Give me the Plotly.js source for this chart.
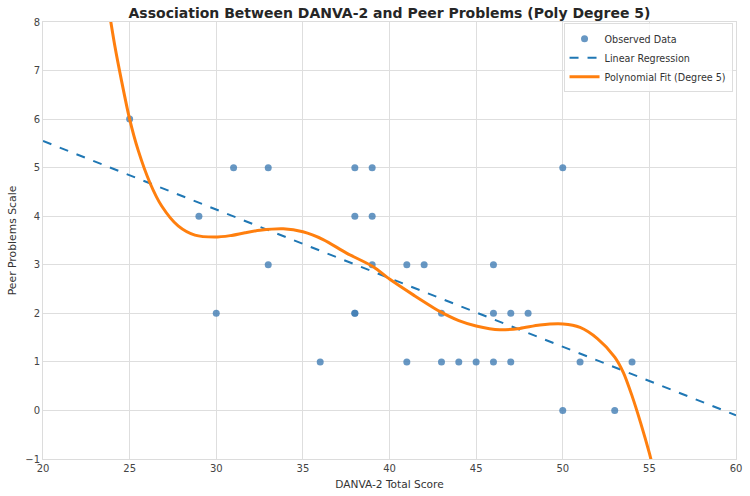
<!DOCTYPE html>
<html>
<head>
<meta charset="utf-8">
<script src="https://cdn.plot.ly/plotly-3.0.1.min.js"></script>
<style>html,body{margin:0;padding:0;background:#fff;}#chart{width:750px;height:496px;}</style>
</head>
<body>
<div id="chart"></div>
<script>
// Observed data (DANVA-2 total score, peer problems)
const obsX = [25, 29, 30, 31, 33, 33, 36, 38, 38, 38, 38, 39, 39, 39, 41, 42, 41, 43, 43, 44, 45, 46, 46, 46, 47, 47, 48, 50, 50, 51, 53, 54];
const obsY = [6, 4, 2, 5, 5, 3, 1, 5, 4, 2, 2, 5, 4, 3, 3, 3, 1, 2, 1, 1, 1, 3, 2, 1, 2, 1, 2, 5, 0, 1, 0, 1];

// Linear regression line
const linX = [20, 60];
const linY = [5.55, -0.10];

// Polynomial fit (degree 5) curve
const polyX = [23.87, 24.15, 24.5, 25.0, 25.5, 26.17, 26.85, 27.8, 28.77, 29.9, 30.8, 31.66, 32.52, 33.87, 35.0, 36.17, 37.52, 39.06, 40.02, 41.37, 42.9, 44.0, 45.0, 46.37, 47.52, 48.68, 50.02, 51.0, 52.0, 53.0, 53.5, 54.0, 54.5, 55.0, 55.1];
const polyY = [8.1, 7.5, 6.85, 6.0, 5.35, 4.69, 4.21, 3.80, 3.61, 3.57, 3.60, 3.66, 3.71, 3.74, 3.68, 3.52, 3.24, 2.96, 2.70, 2.38, 2.04, 1.85, 1.74, 1.66, 1.69, 1.76, 1.78, 1.71, 1.48, 1.10, 0.78, 0.30, -0.26, -0.88, -1.02];

const font = 'DejaVu Sans, sans-serif';

const traces = [
  {x: obsX, y: obsY, type: 'scatter', mode: 'markers', name: 'Observed Data',
   marker: {color: 'rgba(65,125,180,0.8)', size: 7, line: {width: 0}}},
  {x: linX, y: linY, type: 'scatter', mode: 'lines', name: 'Linear Regression',
   line: {color: '#1f77b4', width: 2, dash: 'dash'}},
  {x: polyX, y: polyY, type: 'scatter', mode: 'lines', name: 'Polynomial Fit (Degree 5)',
   line: {color: '#ff7f0e', width: 3, shape: 'spline', smoothing: 0.8}}
];

const layout = {
  width: 750, height: 496,
  margin: {l: 43, r: 14, t: 22, b: 37},
  paper_bgcolor: '#fff', plot_bgcolor: '#fff',
  font: {family: font, size: 11, color: '#333'},
  title: {text: '<b>Association Between DANVA-2 and Peer Problems (Poly Degree 5)</b>',
          x: 0.5, xref: 'paper', y: 0.974, yref: 'container', yanchor: 'middle',
          font: {family: font, size: 14, color: '#262626'}},
  xaxis: {range: [20, 60], dtick: 5, tick0: 20, showgrid: true, gridcolor: '#dedede', gridwidth: 1,
          zeroline: false, showline: true, mirror: true, linecolor: '#dcdcdc', linewidth: 1,
          ticks: '', tickfont: {size: 10, color: '#444'},
          title: {text: 'DANVA-2 Total Score', font: {size: 10.6, color: '#333'}, standoff: 7}},
  yaxis: {range: [-1, 8], dtick: 1, tick0: -1, showgrid: true, gridcolor: '#dedede', gridwidth: 1,
          zeroline: false, showline: true, mirror: true, linecolor: '#dcdcdc', linewidth: 1,
          ticks: '', tickfont: {size: 10, color: '#444'},
          title: {text: 'Peer Problems Scale', font: {size: 10.8, color: '#333'}, standoff: 6}},
  showlegend: true,
  legend: {x: 0.995, y: 0.997, xanchor: 'right', yanchor: 'top', bgcolor: 'rgba(255,255,255,0.85)',
           bordercolor: '#dddddd', borderwidth: 1, font: {size: 9.6, color: '#333'},
           tracegroupgap: 0, itemwidth: 30}
};

Plotly.newPlot('chart', traces, layout, {displayModeBar: false, staticPlot: true});
</script>
</body>
</html>
